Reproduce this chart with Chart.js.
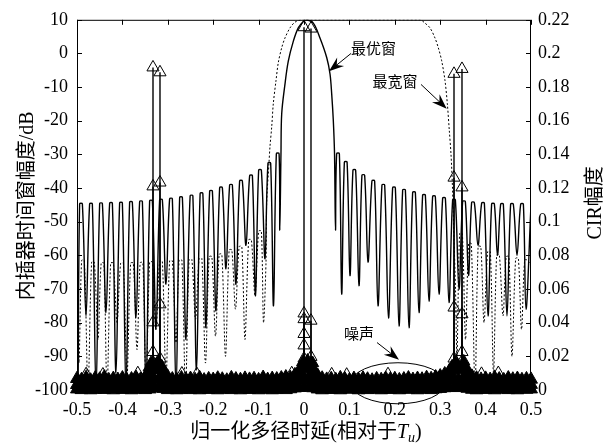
<!DOCTYPE html>
<html>
<head>
<meta charset="utf-8">
<script src="https://cdn.jsdelivr.net/npm/chart.js@4.4.1/dist/chart.umd.min.js"></script>
<style>
  html, body { margin: 0; padding: 0; background: #fff; }
  canvas { display: block; }
</style>
</head>
<body>
<canvas id="chart" width="612" height="443"></canvas>
<script>
// axis ticks
const xTickValues = [-0.5, -0.4, -0.3, -0.2, -0.1, 0, 0.1, 0.2, 0.3, 0.4, 0.5]
const xTickLabels = ['-0.5', '-0.4', '-0.3', '-0.2', '-0.1', '0', '0.1', '0.2', '0.3', '0.4', '0.5']
const dbTickValues = [-100, -90, -80, -70, -60, -50, -40, -30, -20, -10, 0, 10]
const dbTickLabels = ['-100', '-90', '-80', '-70', '-60', '-50', '-40', '-30', '-20', '-10', '0', '10']
const cirTickValues = [0, 0.02, 0.04, 0.06, 0.08, 0.1, 0.12, 0.14, 0.16, 0.18, 0.2, 0.22]
const cirTickLabels = ['0', '0.02', '0.04', '0.06', '0.08', '0.1', '0.12', '0.14', '0.16', '0.18', '0.2', '0.22']

// 最优窗 (solid): sidelobe peaks, nulls, main lobe, ends
const optPeakX = [-0.4912, -0.4692, -0.4471, -0.4251, -0.4031, -0.3811, -0.3590, -0.3370, -0.3150, -0.2930, -0.2709,
  -0.2478, -0.2258, -0.2048, -0.1828, -0.1608, -0.1388, -0.1167, -0.0969, -0.0764, -0.0579,
  0.0749, 0.0919, 0.1108, 0.1306, 0.1526, 0.1747, 0.1982, 0.2203, 0.2423, 0.2643,
  0.2863, 0.3084, 0.3304, 0.3524, 0.3722, 0.3943, 0.4163, 0.4361, 0.4581, 0.4802]
const optPeakDb = [-44.7, -44.7, -44.6, -44.5, -44.4, -44.2, -44.0, -43.8, -43.5, -43.2, -42.8,
  -42.3, -41.6, -40.9, -39.9, -39.1, -37.9, -36.3, -34.7, -32.6, -29.8,
  -29.8, -32.3, -34.7, -36.2, -37.9, -39.1, -39.9, -40.6, -41.3, -42.1,
  -42.5, -43.0, -43.5, -44.0, -44.3, -44.5, -44.7, -44.8, -44.8, -44.8]
const optNullX = [-0.4978, -0.4802, -0.4581, -0.4361, -0.4141, -0.3921, -0.3700, -0.3480, -0.3260, -0.3040, -0.2819,
  -0.2599, -0.2368, -0.2159, -0.1938, -0.1718, -0.1498, -0.1278, -0.1068, -0.0859, -0.0672, -0.0533,
  0.0694, 0.0830, 0.1013, 0.1211, 0.1410, 0.1630, 0.1861, 0.2093, 0.2313, 0.2533, 0.2753,
  0.2974, 0.3194, 0.3414, 0.3623, 0.3833, 0.4053, 0.4262, 0.4471, 0.4692, 0.4890]
const optNullDb = [-100, -78, -100, -77, -95, -100, -78.5, -100, -82, -68.6, -100,
  -85, -94, -81.5, -76.5, -64, -68.6, -57, -72, -61, -75, -52.5,
  -52.5, -71.5, -66, -69, -62, -75, -78.6, -81, -81.5, -77, -73.6,
  -71.5, -74, -70, -66, -57, -78, -60, -78, -60, -76]
const optMainX = [-0.0507, -0.0491, -0.0419, -0.0346, -0.0236, -0.0126, -0.0015, 0.0059, 0.0205, 0.0352, 0.0500, 0.0573, 0.0610, 0.0645, 0.0672]
const optMainDb = [-29.6, -17.9, -9.1, -2.3, 3.6, 7.6, 9.5, 10, 9.0, 4.6, -1.2, -6.1, -12.0, -19.8, -29.6]
const optEndX = [-0.5, 0.5]
const optEndDb = [-46, -45]

// 最宽窗 (dashed)
const widePeakX = [-0.4868, -0.4648, -0.4438, -0.4229, -0.4009, -0.3789, -0.3579, -0.3370, -0.3150, -0.2930,
  -0.2720, -0.2500, -0.2280, -0.2059, -0.1839, -0.1619, -0.1399, -0.1189, -0.0969,
  0.3458, 0.3656, 0.3865, 0.4075, 0.4273, 0.4483, 0.4692, 0.4890]
const widePeakDb = [-61.5, -62, -62.3, -62.3, -62.3, -62.3, -62.2, -62, -61.8, -61.6,
  -61.4, -61.2, -60.9, -60.4, -59.7, -58.4, -57.4, -55.4, -52.8,
  -53.5, -56.5, -57.4, -58.9, -59.9, -60.4, -60.9, -61.4]
const wideNullX = [-0.4956, -0.4758, -0.4537, -0.4339, -0.4119, -0.3899, -0.3678, -0.3480, -0.3260, -0.3040,
  -0.2819, -0.2610, -0.2390, -0.2170, -0.1949, -0.1729, -0.1509, -0.1300, -0.1079, -0.0892,
  0.3370, 0.3557, 0.3767, 0.3965, 0.4174, 0.4383, 0.4581, 0.4791]
const wideNullDb = [-92, -100, -85, -100, -80, -96, -88, -100, -82, -97,
  -86, -100, -79, -92, -84, -90, -76, -85, -72, -80,
  -90, -85, -100, -80, -95, -78, -90, -82]
const wideMainX = [-0.0837, -0.0822, -0.0771, -0.0749, -0.0711, -0.0676, -0.0617, -0.0566, -0.0491, -0.0419, -0.0308, -0.0198, -0.0051,
  0.2555, 0.2665, 0.2775, 0.2885, 0.2958, 0.3033, 0.3106, 0.3157, 0.3200, 0.3238, 0.3271, 0.3304, 0.3337]
const wideMainDb = [-62, -44.3, -32.5, -27.6, -21.8, -14.9, -8.1, -2.7, 1.7, 4.6, 7.6, 9.3, 10,
  10, 9.0, 7.6, 4.6, 1.7, -2.2, -8.1, -14.9, -22.8, -30, -40, -55, -70]
const wideEndX = [-0.5, 0.5]
const wideEndDb = [-64, -63]

// CIR taps (right axis), one array per estimate
const cirTapX = [-0.3326, -0.3172, 0, 0.0154, 0.3304, 0.3480]
const cirTier1 = [0.1917, 0.1888, 0.2156, 0.2148, 0.1879, 0.1908]
const cirTier2 = [0.1210, 0.1233, 0.0455, 0.0412, 0.1262, 0.1204]
const cirTier3 = [0.0402, 0.0509, 0.0421, 0.0197, 0.0490, 0.0450]
const cirTier4 = [0.0226, 0.0187, 0.0333, 0.0157, 0.0187, 0.0226]
const cirTier5 = [0.0165, 0.0150, 0.0265, 0.0135, 0.0150, 0.0170]
const cirTier6 = [0.0130, 0.0120, 0.0187, 0.0115, 0.0122, 0.0135]
const cirTier7 = [0.0105, 0.0100, 0.0140, 0.0100, 0.0100, 0.0110]

// leakage around the taps
const clusterX = [-0.346, -0.341, -0.337, -0.328, -0.324, -0.321, -0.313, -0.308,
  -0.011, -0.006, -0.003, 0.004, 0.008, 0.011, 0.019, 0.024,
  0.321, 0.326, 0.334, 0.338, 0.343, 0.352, 0.357, 0.361]
const clusterVal = [0.0095, 0.0135, 0.0160, 0.0150, 0.0125, 0.0170, 0.0140, 0.0100,
  0.0105, 0.0140, 0.0165, 0.0150, 0.0175, 0.0130, 0.0160, 0.0110,
  0.0100, 0.0140, 0.0165, 0.0150, 0.0130, 0.0170, 0.0135, 0.0095]

// CIR noise floor
const noiseX = [-0.50, -0.49, -0.48, -0.47, -0.46, -0.45, -0.44, -0.43, -0.42, -0.41,
  -0.40, -0.39, -0.38, -0.37, -0.36, -0.35, -0.34, -0.33, -0.32, -0.31,
  -0.30, -0.29, -0.28, -0.27, -0.26, -0.25, -0.24, -0.23, -0.22, -0.21,
  -0.20, -0.19, -0.18, -0.17, -0.16, -0.15, -0.14, -0.13, -0.12, -0.11,
  -0.10, -0.09, -0.08, -0.07, -0.06, -0.05, -0.04, -0.03, -0.02, -0.01,
  0.00, 0.01, 0.02, 0.03, 0.04, 0.05, 0.06, 0.07, 0.08, 0.09,
  0.10, 0.11, 0.12, 0.13, 0.14, 0.15, 0.16, 0.17, 0.18, 0.19,
  0.20, 0.21, 0.22, 0.23, 0.24, 0.25, 0.26, 0.27, 0.28, 0.29,
  0.30, 0.31, 0.32, 0.33, 0.34, 0.35, 0.36, 0.37, 0.38, 0.39,
  0.40, 0.41, 0.42, 0.43, 0.44, 0.45, 0.46, 0.47, 0.48, 0.49, 0.50]
const noiseHigh = [0.0067, 0.0061, 0.0073, 0.0058, 0.0070, 0.0064, 0.0076, 0.0060, 0.0068, 0.0062,
  0.0071, 0.0059, 0.0065, 0.0074, 0.0063, 0.0077, 0.0100, 0.0120, 0.0127, 0.0105,
  0.0079, 0.0065, 0.0060, 0.0072, 0.0063, 0.0068, 0.0061, 0.0073, 0.0059, 0.0066,
  0.0062, 0.0070, 0.0064, 0.0058, 0.0072, 0.0065, 0.0061, 0.0069, 0.0063, 0.0067,
  0.0060, 0.0074, 0.0062, 0.0068, 0.0065, 0.0071, 0.0077, 0.0073, 0.0090, 0.0110,
  0.0133, 0.0125, 0.0113, 0.0087, 0.0070, 0.0063, 0.0067, 0.0061, 0.0072, 0.0065,
  0.0059, 0.0068, 0.0062, 0.0070, 0.0064, 0.0058, 0.0066, 0.0061, 0.0069, 0.0063,
  0.0067, 0.0060, 0.0065, 0.0071, 0.0062, 0.0068, 0.0064, 0.0073, 0.0067, 0.0077,
  0.0083, 0.0095, 0.0113, 0.0127, 0.0121, 0.0130, 0.0107, 0.0081, 0.0070, 0.0063,
  0.0069, 0.0062, 0.0073, 0.0065, 0.0060, 0.0071, 0.0064, 0.0068, 0.0061, 0.0066, 0.0063]
const noiseMid = [0.0031, 0.0036, 0.0027, 0.0034, 0.0029, 0.0038, 0.0032, 0.0026, 0.0035, 0.0030,
  0.0037, 0.0028, 0.0033, 0.0039, 0.0030, 0.0036, 0.0048, 0.0062, 0.0066, 0.0052,
  0.0035, 0.0029, 0.0034, 0.0027, 0.0038, 0.0031, 0.0036, 0.0028, 0.0033, 0.0037,
  0.0030, 0.0035, 0.0026, 0.0032, 0.0037, 0.0029, 0.0034, 0.0031, 0.0038, 0.0027,
  0.0033, 0.0036, 0.0030, 0.0035, 0.0028, 0.0034, 0.0039, 0.0042, 0.0050, 0.0058,
  0.0068, 0.0064, 0.0057, 0.0045, 0.0034, 0.0029, 0.0036, 0.0031, 0.0027, 0.0035,
  0.0032, 0.0037, 0.0028, 0.0034, 0.0030, 0.0036, 0.0027, 0.0033, 0.0038, 0.0029,
  0.0035, 0.0031, 0.0037, 0.0026, 0.0033, 0.0030, 0.0036, 0.0032, 0.0034, 0.0039,
  0.0042, 0.0051, 0.0060, 0.0066, 0.0062, 0.0065, 0.0054, 0.0043, 0.0034, 0.0030,
  0.0036, 0.0028, 0.0033, 0.0037, 0.0029, 0.0035, 0.0031, 0.0038, 0.0027, 0.0034, 0.0032]
const noiseLow = [0.0005, 0.0001, 0.0008, 0.0000, 0.0003, 0.0010, 0.0002, 0.0006, 0.0000, 0.0007,
  0.0002, 0.0009, 0.0000, 0.0004, 0.0011, 0.0001, 0.0005, 0.0013, 0.0015, 0.0008,
  0.0001, 0.0006, 0.0000, 0.0003, 0.0009, 0.0001, 0.0005, 0.0000, 0.0007, 0.0002,
  0.0010, 0.0000, 0.0004, 0.0006, 0.0001, 0.0008, 0.0000, 0.0005, 0.0002, 0.0009,
  0.0000, 0.0004, 0.0007, 0.0000, 0.0003, 0.0010, 0.0001, 0.0006, 0.0011, 0.0014,
  0.0017, 0.0015, 0.0012, 0.0005, 0.0000, 0.0008, 0.0002, 0.0004, 0.0000, 0.0007,
  0.0003, 0.0010, 0.0000, 0.0005, 0.0001, 0.0008, 0.0004, 0.0000, 0.0006, 0.0002,
  0.0009, 0.0000, 0.0005, 0.0003, 0.0007, 0.0000, 0.0004, 0.0010, 0.0001, 0.0006,
  0.0008, 0.0012, 0.0014, 0.0017, 0.0013, 0.0016, 0.0009, 0.0003, 0.0000, 0.0006,
  0.0002, 0.0008, 0.0000, 0.0005, 0.0011, 0.0001, 0.0004, 0.0000, 0.0007, 0.0003, 0.0005]
const noiseSparseX = [-0.480, -0.443, -0.366, -0.269, -0.236, -0.027, 0.061, 0.094, 0.185, 0.391, 0.428]
const noiseSparse = [0.0094, 0.0092, 0.0100, 0.0098, 0.0095, 0.0100, 0.0093, 0.0091, 0.0094, 0.0096, 0.0101]

// annotations (data units: delay, dB)
const noteText = ['最优窗', '最宽窗', '噪声']
const noteX = [0.153, 0.2004, 0.1211]
const noteDb = [1.5, -8.3, -83.1]
const arrowFromX = [0.1035, 0.2577, 0.1608]
const arrowFromDb = [0.0, -9.2, -85.9]
const arrowToX = [0.055, 0.3143, 0.2093]
const arrowToDb = [-5.3, -16.4, -91.0]
const noiseEllipse = {x: 0.207, db: -98.0, rx: 0.1035, rdb: 6.1}

const LOBE_HALF = 0.003
const SERIF = '"Liberation Serif", "Times New Roman", serif'
const CJK = '"Noto Sans CJK SC", sans-serif'

function pairs(xs, ys) {
  return xs.map((x, i) => ({x, y: ys[i]}))
}

function lobes(xs, ys) {
  const pts = []
  xs.forEach((x, i) => {
    pts.push({x: x - LOBE_HALF, y: ys[i]}, {x: x + LOBE_HALF, y: ys[i]})
  })
  return pts
}

function stems(xs, ys) {
  const pts = []
  xs.forEach((x, i) => {
    pts.push({x, y: 0}, {x, y: ys[i]}, {x, y: null})
  })
  return pts
}

const optimalCurve = [
  ...pairs(optEndX, optEndDb), ...pairs(optNullX, optNullDb),
  ...lobes(optPeakX, optPeakDb), ...pairs(optMainX, optMainDb)
].sort((a, b) => a.x - b.x)

const widestCurve = [
  ...pairs(wideEndX, wideEndDb), ...pairs(wideNullX, wideNullDb),
  ...lobes(widePeakX, widePeakDb), ...pairs(wideMainX, wideMainDb)
].sort((a, b) => a.x - b.x)

const cirTiers = [cirTier1, cirTier2, cirTier3, cirTier4, cirTier5, cirTier6, cirTier7]

const markerBase = {
  yAxisID: 'y1', showLine: false, pointStyle: 'triangle', pointRadius: 7,
  borderColor: '#000', pointBorderWidth: 1, clip: 10
}
const hollow = 'rgba(0,0,0,0)'

const datasets = [
  {data: optimalCurve, yAxisID: 'y', showLine: true, pointRadius: 0, borderColor: '#000', borderWidth: 1.4, tension: 0.35},
  {data: widestCurve, yAxisID: 'y', showLine: true, pointRadius: 0, borderColor: '#000', borderWidth: 1, borderDash: [2, 2], tension: 0.3}
]

cirTiers.forEach(tier => {
  datasets.push({data: stems(cirTapX, tier), yAxisID: 'y1', showLine: true, pointRadius: 0, borderColor: '#000', borderWidth: 1.4})
  datasets.push({...markerBase, data: pairs(cirTapX, tier), pointBackgroundColor: hollow})
})
datasets.push({data: stems(noiseSparseX, noiseSparse), yAxisID: 'y1', showLine: true, pointRadius: 0, borderColor: '#000', borderWidth: 1})
datasets.push({...markerBase, data: pairs(noiseSparseX, noiseSparse), pointBackgroundColor: hollow})
datasets.push({...markerBase, data: pairs(clusterX, clusterVal), pointBackgroundColor: '#000'})
datasets.push({...markerBase, data: pairs(noiseX, noiseHigh), pointRadius: 7.5, pointBackgroundColor: '#000'})
datasets.push({...markerBase, data: pairs(noiseX, noiseMid), pointRadius: 7.5, pointBackgroundColor: '#000'})
datasets.push({...markerBase, data: pairs(noiseX, noiseLow), pointRadius: 7.5, pointBackgroundColor: '#000'})

function drawRuns(ctx, runs, cx, baseline) {
  let total = 0
  runs.forEach(r => {
    ctx.font = r.font
    r.w = ctx.measureText(r.text).width
    total += r.w
  })
  let x = cx - total / 2
  ctx.textAlign = 'left'
  ctx.textBaseline = 'alphabetic'
  runs.forEach(r => {
    ctx.font = r.font
    ctx.fillText(r.text, x, baseline + (r.dy || 0))
    x += r.w
  })
}

function drawArrow(ctx, x1, y1, x2, y2) {
  const a = Math.atan2(y2 - y1, x2 - x1)
  const c = Math.cos(a), s = Math.sin(a)
  ctx.beginPath()
  ctx.moveTo(x1, y1)
  ctx.lineTo(x2 - c * 9, y2 - s * 9)
  ctx.stroke()
  const L = 15, W = 5.5, N = 10
  ctx.beginPath()
  ctx.moveTo(x2, y2)
  ctx.lineTo(x2 - L * c + W * s, y2 - L * s - W * c)
  ctx.lineTo(x2 - N * c, y2 - N * s)
  ctx.lineTo(x2 - L * c - W * s, y2 - L * s + W * c)
  ctx.closePath()
  ctx.fill()
}

const framePlugin = {
  id: 'frame',
  afterDraw(chart) {
    const {ctx, chartArea: a, scales} = chart
    const x = scales.x, y = scales.y, y1 = scales.y1
    ctx.save()
    ctx.strokeStyle = '#000'
    ctx.fillStyle = '#000'
    ctx.lineWidth = 1

    // box and inward ticks
    ctx.strokeRect(a.left + 0.5, a.top + 0.5, a.right - a.left - 1, a.bottom - a.top)
    ctx.beginPath()
    xTickValues.forEach(v => {
      const px = Math.round(x.getPixelForValue(v)) + 0.5
      ctx.moveTo(px, a.bottom); ctx.lineTo(px, a.bottom - 5)
      ctx.moveTo(px, a.top); ctx.lineTo(px, a.top + 5)
    })
    dbTickValues.forEach(v => {
      const py = Math.round(y.getPixelForValue(v)) + 0.5
      ctx.moveTo(a.left, py); ctx.lineTo(a.left + 5, py)
    })
    cirTickValues.forEach(v => {
      const py = Math.round(y1.getPixelForValue(v)) + 0.5
      ctx.moveTo(a.right, py); ctx.lineTo(a.right - 5, py)
    })
    ctx.stroke()

    // axis titles
    const midY = (a.top + a.bottom) / 2
    ctx.save()
    ctx.translate(25, midY + 1)
    ctx.rotate(-Math.PI / 2)
    drawRuns(ctx, [
      {text: '内插器时间窗幅度', font: '20px ' + CJK},
      {text: '/dB', font: '20px ' + SERIF}
    ], 0, 7.5)
    ctx.restore()

    ctx.save()
    ctx.translate(593, midY - 2)
    ctx.rotate(-Math.PI / 2)
    drawRuns(ctx, [
      {text: 'CIR', font: '20px ' + SERIF},
      {text: '幅度', font: '20px ' + CJK}
    ], 0, 7.5)
    ctx.restore()

    drawRuns(ctx, [
      {text: '归一化多径时延', font: '20px ' + CJK},
      {text: '(', font: '20px ' + SERIF},
      {text: '相对于', font: '20px ' + CJK},
      {text: 'T', font: 'italic 20px ' + SERIF},
      {text: 'u', font: 'italic 14px ' + SERIF, dy: 4},
      {text: ')', font: '20px ' + SERIF}
    ], (a.left + a.right) / 2 + 2, 438)

    // annotations
    noteText.forEach((t, i) => {
      drawRuns(ctx, [{text: t, font: '15px ' + CJK}], x.getPixelForValue(noteX[i]), y.getPixelForValue(noteDb[i]) + 5.5)
      drawArrow(ctx,
        x.getPixelForValue(arrowFromX[i]), y.getPixelForValue(arrowFromDb[i]),
        x.getPixelForValue(arrowToX[i]), y.getPixelForValue(arrowToDb[i]))
    })
    const ex = x.getPixelForValue(noiseEllipse.x)
    const ey = y.getPixelForValue(noiseEllipse.db)
    const erx = x.getPixelForValue(noiseEllipse.x + noiseEllipse.rx) - ex
    const ery = ey - y.getPixelForValue(noiseEllipse.db + noiseEllipse.rdb)
    ctx.beginPath()
    ctx.ellipse(ex, ey, erx, ery, 0, 0, Math.PI * 2)
    ctx.stroke()
    ctx.restore()
  }
}

Chart.defaults.font.family = SERIF
Chart.defaults.color = '#000'

new Chart(document.getElementById('chart'), {
  type: 'scatter',
  data: {datasets},
  options: {
    responsive: false,
    animation: false,
    layout: {padding: {top: 15, left: 0, right: 0, bottom: 0}},
    plugins: {legend: {display: false}, tooltip: {enabled: false}},
    elements: {line: {borderCapStyle: 'butt'}},
    scales: {
      x: {
        type: 'linear', min: -0.5, max: 0.5, offset: false,
        grid: {display: false, drawTicks: false}, border: {display: false},
        afterBuildTicks: s => { s.ticks = xTickValues.map(v => ({value: v})) },
        afterFit: s => { s.height = 53 },
        ticks: {font: {size: 18}, padding: 9, autoSkip: false, maxRotation: 0,
          callback: (v, i) => xTickLabels[i]}
      },
      y: {
        position: 'left', min: -100, max: 10,
        grid: {display: false, drawTicks: false}, border: {display: false},
        afterBuildTicks: s => { s.ticks = dbTickValues.map(v => ({value: v})) },
        afterFit: s => { s.width = 77 },
        ticks: {font: {size: 18}, padding: 9, autoSkip: false,
          callback: (v, i) => dbTickLabels[i]}
      },
      y1: {
        position: 'right', min: 0, max: 0.22,
        grid: {display: false, drawTicks: false}, border: {display: false},
        afterBuildTicks: s => { s.ticks = cirTickValues.map(v => ({value: v})) },
        afterFit: s => { s.width = 81 },
        ticks: {font: {size: 18}, padding: 7, autoSkip: false,
          callback: (v, i) => cirTickLabels[i]}
      }
    }
  },
  plugins: [framePlugin]
})
</script>
</body>
</html>
